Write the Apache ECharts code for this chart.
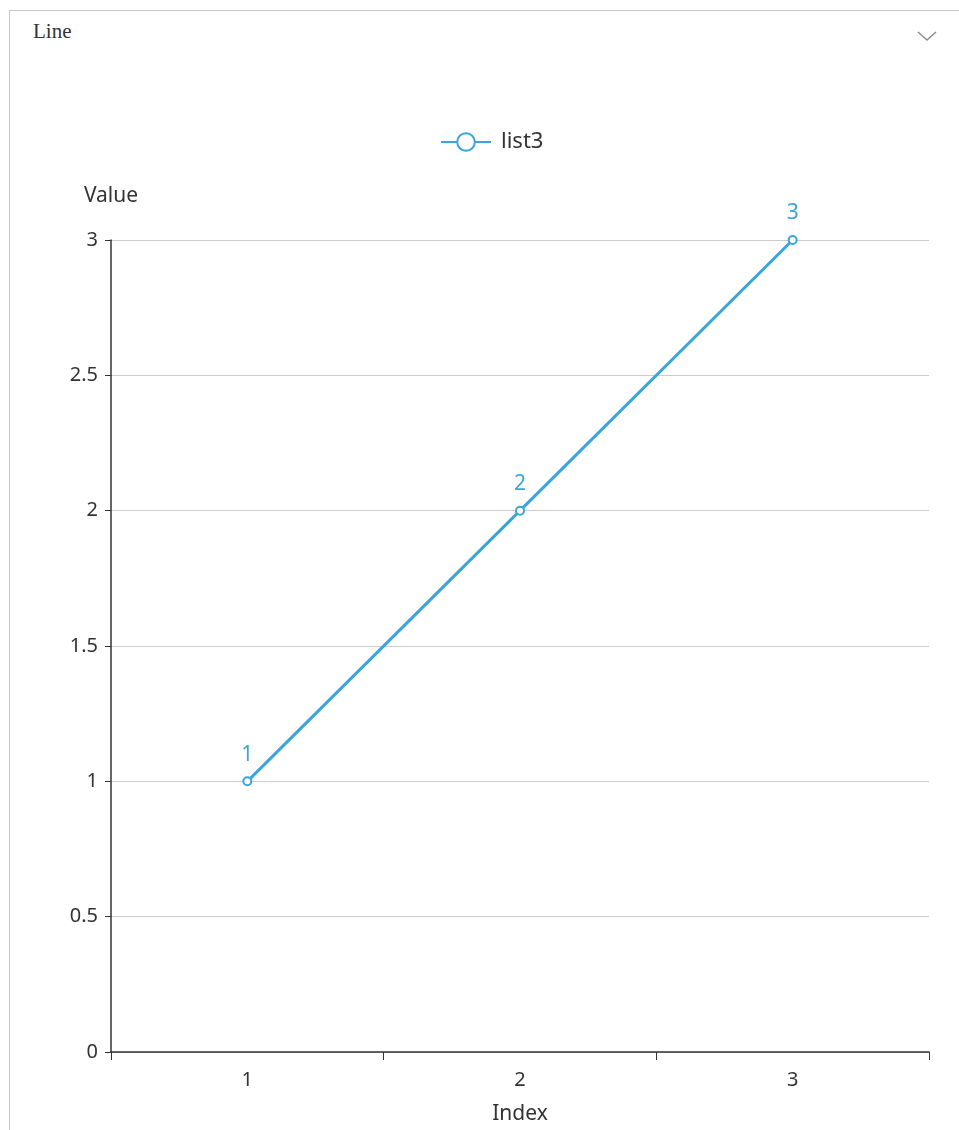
<!DOCTYPE html>
<html>
<head>
<meta charset="utf-8">
<script src="https://cdn.jsdelivr.net/npm/echarts@6/dist/echarts.min.js"></script>
<style>
  html, body { margin: 0; padding: 0; background: #fff; overflow: hidden; width: 959px; height: 1130px; }
  #panel {
    position: absolute; left: 9px; top: 10px; width: 970px; height: 1140px;
    border: 1px solid #c8c8c8; box-sizing: border-box;
  }
  #title {
    position: absolute; left: 23px; top: 8px;
    font-family: "Liberation Serif", "DejaVu Serif", serif; font-size: 21px; color: #333;
  }
  #chev { position: absolute; left: 906px; top: 18px; }
  #main { position: absolute; left: 0; top: 0; width: 959px; height: 1130px; }
</style>
</head>
<body>
<div id="panel">
  <div id="title">Line</div>
  <svg id="chev" width="22" height="14"><polyline points="2,3 11,11 20,3" fill="none" stroke="#8a8a8a" stroke-width="1.4"/></svg>
</div>
<div id="main"></div>
<script>
var categories = ['1', '2', '3'];
var values = [1, 2, 3];
var seriesName = 'list3';

var chartDom = document.getElementById('main');
var myChart = echarts.init(chartDom);
var font = '"Noto Sans", "Open Sans", sans-serif';
var blue = '#3aa5dc';

var option = {
  animation: false,
  textStyle: { fontFamily: font },
  legend: {
    left: 435,
    top: 126,
    itemWidth: 50,
    itemHeight: 22,
    textStyle: { fontSize: 22, color: '#333', fontFamily: font, padding: [0, 0, 0, 5] },
    data: [seriesName]
  },
  grid: { left: 111, right: 30, top: 240, bottom: 78 },
  xAxis: {
    type: 'category',
    data: categories,
    name: 'Index',
    nameLocation: 'middle',
    nameGap: 52,
    nameTextStyle: { fontSize: 21, color: '#333' },
    axisLine: { lineStyle: { color: '#333', width: 1.5 } },
    axisTick: { show: true, alignWithLabel: false, interval: 0, length: 8, lineStyle: { color: '#333' } },
    axisLabel: { fontSize: 20, color: '#333', margin: 18 }
  },
  yAxis: {
    type: 'value',
    min: 0,
    max: 3,
    interval: 0.5,
    name: 'Value',
    nameGap: 33,
    nameTextStyle: { fontSize: 21, color: '#333', align: 'center' },
    axisLine: { show: true, lineStyle: { color: '#333', width: 1.5 } },
    axisTick: { show: true, length: 6, lineStyle: { color: '#333' } },
    axisLabel: { fontSize: 20, color: '#333', margin: 13 },
    splitLine: { lineStyle: { color: '#cccccc', width: 1 } }
  },
  series: [
    {
      name: seriesName,
      type: 'line',
      data: values,
      symbol: 'emptyCircle',
      symbolSize: 8,
      color: blue,
      lineStyle: { width: 3, color: blue },
      itemStyle: { color: blue, borderWidth: 1.5 },
      label: { show: true, position: 'top', fontSize: 21, color: blue, distance: 11 }
    }
  ]
};
myChart.setOption(option);
</script>
</body>
</html>
